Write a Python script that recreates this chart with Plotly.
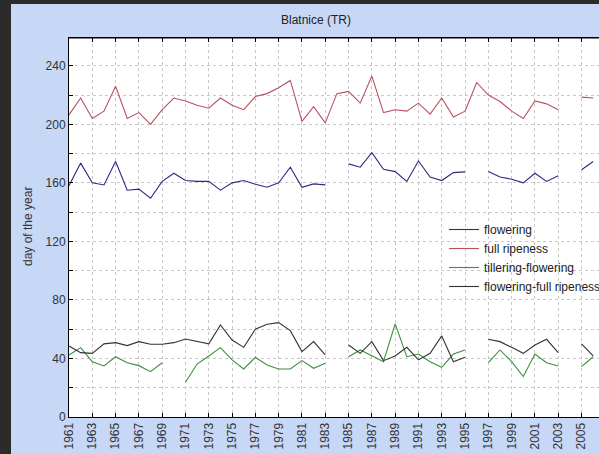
import plotly.graph_objects as go

years = list(range(1961, 2007))

flowering = [158, 173.5, 160, 158.6, 174.6, 155, 155.7, 149.5, 161, 166.6,
             161.6, 161, 161, 155, 160, 161.6, 159, 157, 160, 170.7,
             157, 159.3, 158.6, None, 173, 170.7, 180.7, 169.3, 167.7, 161,
             175, 164, 161.6, 167, 167.5, None, 167.7, 164, 162.5, 160,
             166.6, 161, 164.8, None, 169, 174.6]

full_ripeness = [206.5, 218, 204, 209, 226, 204, 208, 200, 210, 218,
                 216, 213, 211, 218, 213, 210, 219, 221, 225, 230,
                 202, 212, 201, 221, 222.5, 214.5, 233, 208, 210, 209,
                 214.5, 207, 218, 205, 209, 228.6, 220, 215.6, 209, 204,
                 216, 214, 210, None, 218.6, 218]

tillering_flowering = [42.4, 47.4, 37.8, 34.9, 41.2, 37.1, 35.1, 31, 37.1, None,
                       23.7, 36.2, 41.7, 47.4, 39, 32.8, 40.8, 35.6, 32.8, 32.8,
                       38.5, 33.3, 36.7, None, 41.2, 45.8, 41.9, 37.8, 63.6, 41.2,
                       43, 37.8, 34, 43, 45.8, None, 37.1, 45.8, 37.8, 27.6,
                       43, 37.1, 34.9, None, 34.4, 41.2]

flowering_full_ripeness = [48.5, 44, 43.5, 50, 50.8, 48.8, 51.5, 49.7, 49.7, 50.8,
                           53.3, 51.5, 50, 62.9, 52.6, 47.6, 60, 63.4, 64.5, 59,
                           44.7, 51.5, 42.4, None, 49.2, 43.5, 51.5, 38.5, 41.7, 47.6,
                           39, 43.5, 55.4, 37.8, 40.8, None, 53.1, 51.5, 47.6, 43.5,
                           49.2, 53.1, 44, None, 50, 41.7]

series = [
    ("flowering", flowering, "#2a2a86"),
    ("full ripeness", full_ripeness, "#bb5060"),
    ("tillering-flowering", tillering_flowering, "#3c8f3c"),
    ("flowering-full ripeness", flowering_full_ripeness, "#333333"),
]

W, H = 599, 454
ML, MT, MB, MR = 69, 38, 37, 0
PW, PH = W - ML - MR, H - MT - MB

def px_x(p):
    return (p - ML) / PW

def px_y(p):
    return (H - MB - p) / PH

fig = go.Figure()
for name, vals, col in series:
    fig.add_trace(go.Scatter(x=years, y=vals, name=name, mode="lines",
                             line=dict(color=col, width=1.1),
                             connectgaps=False))

font = "Arial, Liberation Sans, sans-serif"
bg = "#c7d8f7"
dark = "#2b2b2b"

fig.update_layout(
    width=W, height=H,
    margin=dict(l=ML, r=MR, t=MT, b=MB, autoexpand=False),
    paper_bgcolor=bg, plot_bgcolor="white",
    font=dict(family=font, size=12, color="#333333"),
    title=dict(text="Blatnice (TR)", x=316 / W, xref="container", xanchor="center",
               y=1 - 20 / H, yref="container", yanchor="middle",
               font=dict(size=12, color="#222222")),
    showlegend=True,
    legend=dict(x=px_x(444), y=px_y(215), xanchor="left", yanchor="top",
                bgcolor="rgba(0,0,0,0)", borderwidth=0,
                font=dict(size=12, color="#222222"), itemwidth=30),
    xaxis=dict(range=[1961, 2006.5], tick0=1961, dtick=2, tickangle=-90,
               showline=True, linecolor="black", linewidth=1, mirror="ticks",
               ticks="inside", ticklen=4, tickcolor="black",
               showgrid=True, gridcolor="#c8c8c8", griddash="dot", gridwidth=1,
               zeroline=False, tickfont=dict(size=12, color="#333333")),
    yaxis=dict(range=[0, 259], tick0=0, dtick=40,
               showline=True, linecolor="black", linewidth=1, mirror=False,
               ticks="inside", ticklen=4, tickcolor="black",
               showgrid=True, gridcolor="#c8c8c8", griddash="dot", gridwidth=1,
               minor=dict(dtick=20, showgrid=True, gridcolor="#c8c8c8", griddash="dot",
                          ticks="inside", ticklen=4, tickcolor="black"),
               zeroline=False, tickfont=dict(size=12, color="#333333")),
)

fig.add_annotation(text="day of the year", textangle=-90, xref="paper", yref="paper",
                   x=px_x(28), y=px_y(227), xanchor="center", yanchor="middle",
                   showarrow=False, font=dict(size=12, color="#333333"))

# top line of the frame
fig.add_shape(type="line", xref="paper", yref="paper", x0=0, x1=1, y0=1, y1=1,
              line=dict(color="black", width=1))
# dark borders of the screenshot
fig.add_shape(type="rect", xref="paper", yref="paper", x0=px_x(0), x1=px_x(11),
              y0=px_y(H), y1=px_y(0), fillcolor=dark, line=dict(width=0), layer="above")
fig.add_shape(type="rect", xref="paper", yref="paper", x0=px_x(0), x1=px_x(W),
              y0=px_y(4), y1=px_y(0), fillcolor=dark, line=dict(width=0), layer="above")

fig.write_html("out.html", config={"displayModeBar": False},
               post_script=("document.body.style.margin='0';"
                            "document.body.style.overflow='hidden';"
                            "document.documentElement.style.overflow='hidden';"))
